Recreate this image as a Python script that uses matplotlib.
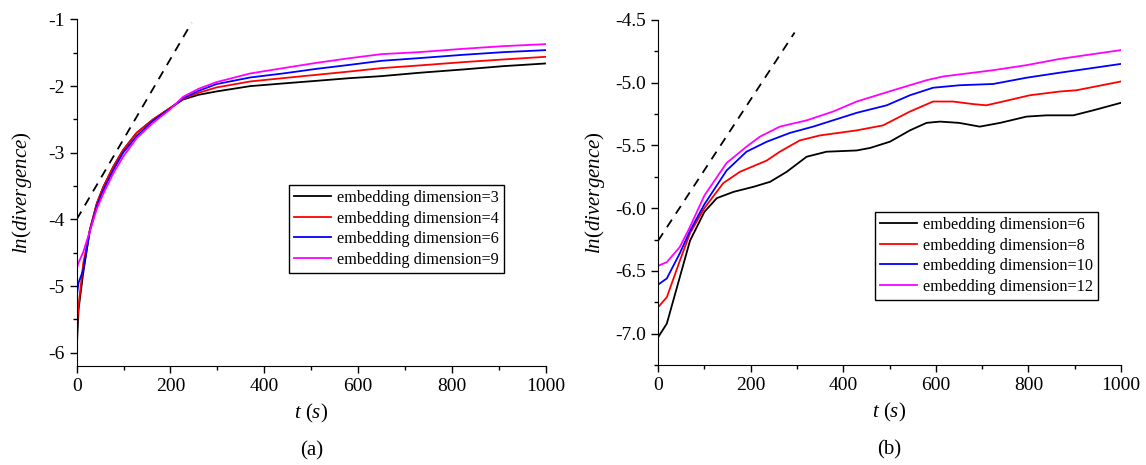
import matplotlib
matplotlib.use("Agg")
import matplotlib.pyplot as plt
from matplotlib.ticker import MultipleLocator, FuncFormatter

plt.rcParams["font.family"] = "Liberation Serif"
plt.rcParams["mathtext.fontset"] = "custom"
plt.rcParams["mathtext.rm"] = "Liberation Serif"
plt.rcParams["mathtext.it"] = "Liberation Serif:italic"

COLORS = ["black", "red", "blue", "magenta"]

# Panel (a): ln(divergence) vs t, embedding dimensions 3/4/6/9
A_LABELS = ["embedding dimension=3", "embedding dimension=4",
            "embedding dimension=6", "embedding dimension=9"]
A_T = [0, 4, 14, 28, 43, 57, 78, 99, 128, 163, 199, 227, 260, 298, 370, 440, 512, 583, 650, 730, 824, 910, 1000]
A_M3 = [-5.96, -5.35, -4.8, -4.16, -3.76, -3.51, -3.21, -2.96, -2.70, -2.50, -2.33, -2.20, -2.13, -2.08, -2.00, -1.96, -1.92, -1.88, -1.85, -1.80, -1.75, -1.70, -1.66]
A_M4 = [-5.65, -5.3, -4.66, -4.16, -3.76, -3.51, -3.21, -2.96, -2.70, -2.50, -2.33, -2.19, -2.10, -2.02, -1.93, -1.88, -1.83, -1.78, -1.73, -1.69, -1.64, -1.60, -1.56]
A_M6 = [-5.16, -4.95, -4.76, -4.18, -3.8, -3.56, -3.26, -3.0, -2.75, -2.52, -2.34, -2.18, -2.07, -1.97, -1.87, -1.81, -1.74, -1.68, -1.62, -1.58, -1.53, -1.49, -1.46]
A_M9 = [-4.74, -4.65, -4.49, -4.18, -3.84, -3.61, -3.31, -3.06, -2.78, -2.55, -2.35, -2.16, -2.04, -1.94, -1.81, -1.73, -1.65, -1.58, -1.52, -1.49, -1.44, -1.40, -1.37]
A_DASH_T = [0, 245]
A_DASH_Y = [-4.0, -1.05]

# Panel (b): embedding dimensions 6/8/10/12
B_LABELS = ["embedding dimension=6", "embedding dimension=8",
            "embedding dimension=10", "embedding dimension=12"]
B_M6_T = [0, 19, 47, 69, 100, 127, 163, 206, 242, 278, 321, 364, 429, 458, 501, 544, 580, 609, 650, 695, 739, 796, 839, 897, 940, 1000]
B_M6 = [-7.03, -6.92, -6.55, -6.26, -6.03, -5.92, -5.87, -5.83, -5.79, -5.71, -5.59, -5.55, -5.54, -5.52, -5.47, -5.38, -5.32, -5.31, -5.32, -5.35, -5.32, -5.27, -5.26, -5.26, -5.22, -5.16]
B_M8_T = [0, 19, 47, 69, 100, 141, 177, 235, 263, 306, 350, 429, 486, 544, 594, 637, 680, 709, 745, 803, 868, 904, 1000]
B_M8 = [-6.79, -6.71, -6.42, -6.2, -6.00, -5.80, -5.71, -5.62, -5.55, -5.46, -5.42, -5.38, -5.34, -5.23, -5.15, -5.15, -5.17, -5.18, -5.15, -5.10, -5.07, -5.06, -4.99]
B_M10_T = [0, 19, 47, 69, 100, 148, 191, 235, 285, 335, 429, 494, 544, 594, 652, 724, 796, 868, 925, 1000]
B_M10 = [-6.61, -6.56, -6.36, -6.18, -5.97, -5.70, -5.55, -5.47, -5.40, -5.35, -5.24, -5.18, -5.10, -5.04, -5.02, -5.01, -4.96, -4.92, -4.89, -4.85]
B_M12_T = [0, 19, 47, 69, 100, 148, 191, 220, 263, 321, 378, 429, 508, 580, 616, 724, 796, 868, 1000]
B_M12 = [-6.46, -6.43, -6.31, -6.15, -5.90, -5.64, -5.51, -5.43, -5.35, -5.30, -5.23, -5.15, -5.06, -4.98, -4.95, -4.90, -4.86, -4.81, -4.74]
B_DASH_T = [0, 295]
B_DASH_Y = [-6.26, -4.6]


def style_axes(ax):
    ax.spines["top"].set_visible(False)
    ax.spines["right"].set_visible(False)
    ax.tick_params(which="major", direction="out", length=5, width=1, labelsize=14)
    ax.tick_params(which="minor", direction="out", length=3, width=1)
    ax.set_xlim(0, 1000)
    ax.xaxis.set_major_locator(MultipleLocator(200))
    ax.xaxis.set_minor_locator(MultipleLocator(100))
    ax.set_xlabel(r"$t$ ($s$)", fontsize=15, labelpad=5)


def add_legend(ax, anchor):
    ax.legend(loc="upper left", bbox_to_anchor=anchor, fontsize=11.7,
              frameon=True, fancybox=False, edgecolor="black", framealpha=1,
              handlelength=2.3, handletextpad=0.35, labelspacing=0.28,
              borderpad=0.3, borderaxespad=0)


fig = plt.figure(figsize=(11.46, 4.65), dpi=100)
ax1 = fig.add_axes([0.0669, 0.2129, 0.4093, 0.7452])
ax2 = fig.add_axes([0.5742, 0.2151, 0.4040, 0.7419])

for ys, lab, c in zip([A_M3, A_M4, A_M6, A_M9], A_LABELS, COLORS):
    ax1.plot(A_T, ys, color=c, lw=1.3, label=lab)
ax1.plot(A_DASH_T, A_DASH_Y, color="black", lw=1.3, ls=(0, (5, 4)))
style_axes(ax1)
ax1.set_ylim(-6.2, -1)
ax1.yaxis.set_major_locator(MultipleLocator(1))
ax1.yaxis.set_minor_locator(MultipleLocator(0.5))
ax1.yaxis.set_major_formatter(FuncFormatter(lambda v, p: f"{v:.0f}"))
ax1.set_ylabel(r"$ln$($divergence$)", fontsize=15, labelpad=10)
add_legend(ax1, (0.453, 0.522))
ax1.text(0.5, -0.245, "(a)", transform=ax1.transAxes, ha="center", va="center", fontsize=15)

b_series = [(B_M6_T, B_M6), (B_M8_T, B_M8), (B_M10_T, B_M10), (B_M12_T, B_M12)]
for (ts, ys), lab, c in zip(b_series, B_LABELS, COLORS):
    ax2.plot(ts, ys, color=c, lw=1.3, label=lab)
ax2.plot(B_DASH_T, B_DASH_Y, color="black", lw=1.3, ls=(0, (5, 4)))
style_axes(ax2)
ax2.set_ylim(-7.25, -4.5)
ax2.yaxis.set_major_locator(MultipleLocator(0.5))
ax2.yaxis.set_minor_locator(MultipleLocator(0.25))
ax2.yaxis.set_major_formatter(FuncFormatter(lambda v, p: f"{v:.1f}"))
ax2.set_ylabel(r"$ln$($divergence$)", fontsize=15, labelpad=6)
add_legend(ax2, (0.469, 0.443))
ax2.text(0.5, -0.245, "(b)", transform=ax2.transAxes, ha="center", va="center", fontsize=15)

fig.savefig("out.png", dpi=100)
